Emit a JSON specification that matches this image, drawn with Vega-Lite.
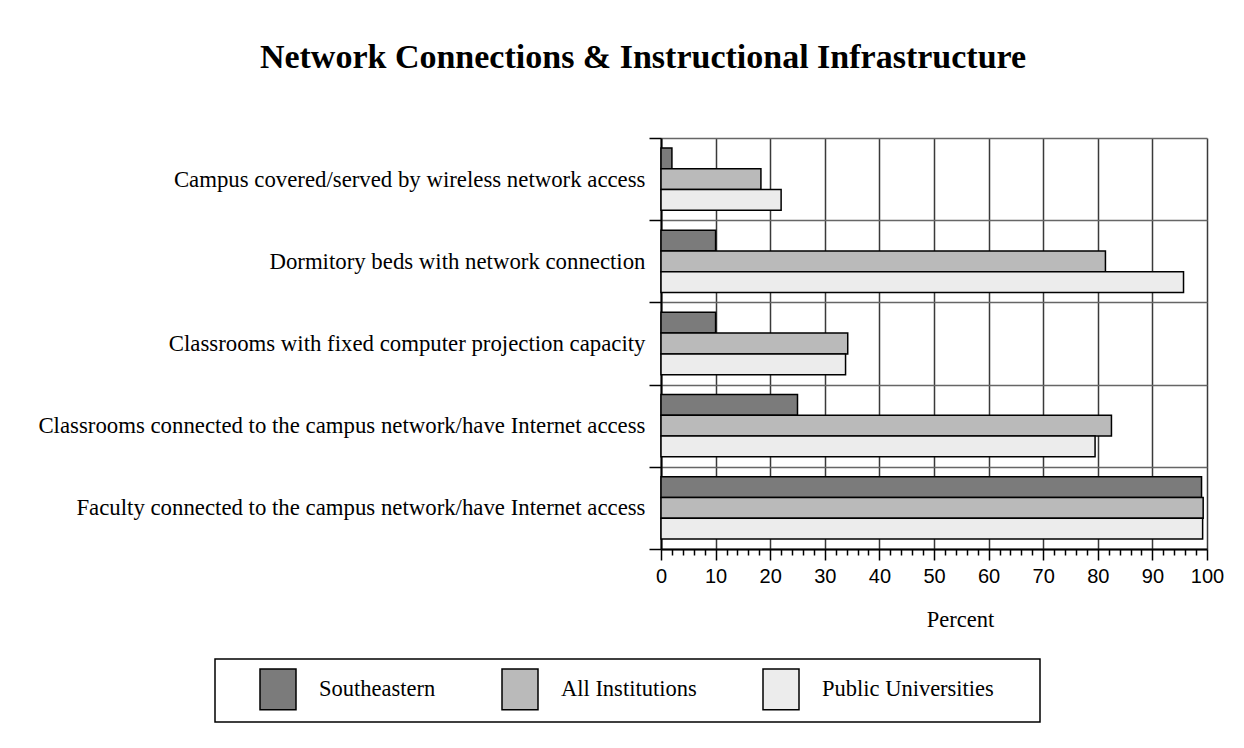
{
  "$schema": "https://vega.github.io/schema/vega-lite/v6.json",
  "width": 546,
  "height": 411,
  "autosize": {"type": "none"},
  "padding": {"left": 661, "top": 138, "right": 37, "bottom": 199},
  "background": "white",
  "title": {
    "text": "Network Connections & Instructional Infrastructure",
    "font": "Liberation Serif",
    "fontSize": 34,
    "fontWeight": "bold",
    "color": "black",
    "anchor": "middle",
    "baseline": "alphabetic",
    "dx": -291,
    "dy": 47,
    "offset": 72
  },
  "data": {
    "values": [
      {"item": "Campus covered/served by wireless network access", "group": "Southeastern", "value": 2.0},
      {"item": "Campus covered/served by wireless network access", "group": "All Institutions", "value": 18.3},
      {"item": "Campus covered/served by wireless network access", "group": "Public Universities", "value": 22.0},
      {"item": "Dormitory beds with network connection", "group": "Southeastern", "value": 10.0},
      {"item": "Dormitory beds with network connection", "group": "All Institutions", "value": 81.4},
      {"item": "Dormitory beds with network connection", "group": "Public Universities", "value": 95.7},
      {"item": "Classrooms with fixed computer projection capacity", "group": "Southeastern", "value": 10.0},
      {"item": "Classrooms with fixed computer projection capacity", "group": "All Institutions", "value": 34.2},
      {"item": "Classrooms with fixed computer projection capacity", "group": "Public Universities", "value": 33.8},
      {"item": "Classrooms connected to the campus network/have Internet access", "group": "Southeastern", "value": 25.0},
      {"item": "Classrooms connected to the campus network/have Internet access", "group": "All Institutions", "value": 82.5},
      {"item": "Classrooms connected to the campus network/have Internet access", "group": "Public Universities", "value": 79.5},
      {"item": "Faculty connected to the campus network/have Internet access", "group": "Southeastern", "value": 99.0},
      {"item": "Faculty connected to the campus network/have Internet access", "group": "All Institutions", "value": 99.3},
      {"item": "Faculty connected to the campus network/have Internet access", "group": "Public Universities", "value": 99.2}
    ]
  },
  "layer": [
    {
      "mark": {"type": "bar", "stroke": "black", "strokeWidth": 1.5},
      "encoding": {
        "y": {
          "field": "item",
          "type": "nominal",
          "sort": [
            "Campus covered/served by wireless network access",
            "Dormitory beds with network connection",
            "Classrooms with fixed computer projection capacity",
            "Classrooms connected to the campus network/have Internet access",
            "Faculty connected to the campus network/have Internet access"
          ],
          "scale": {"paddingInner": 0, "paddingOuter": 0},
          "axis": {
            "title": null,
            "tickBand": "extent",
            "grid": true,
            "gridColor": "#666666",
            "gridWidth": 1.5,
            "domainColor": "black",
            "domainWidth": 2,
            "tickColor": "black",
            "tickWidth": 1.5,
            "tickSize": 12,
            "labelPadding": 4,
            "labelFont": "Liberation Serif",
            "labelFontSize": 22.8,
            "labelColor": "black",
            "labelLimit": 0
          }
        },
        "yOffset": {
          "field": "group",
          "sort": ["Southeastern", "All Institutions", "Public Universities"],
          "scale": {"paddingOuter": 0.48, "paddingInner": 0}
        },
        "x": {
          "field": "value",
          "type": "quantitative",
          "scale": {"domain": [0, 100], "nice": false},
          "axis": {
            "title": "Percent",
            "values": [0, 10, 20, 30, 40, 50, 60, 70, 80, 90, 100],
            "grid": true,
            "gridColor": "#3a3a3a",
            "gridWidth": 1.5,
            "domainColor": "black",
            "domainWidth": 2,
            "tickColor": "black",
            "tickWidth": 1.5,
            "tickSize": 11,
            "labelFont": "Liberation Sans",
            "labelFontSize": 20,
            "labelColor": "black",
            "labelPadding": 6,
            "labelFlush": false,
            "titleFont": "Liberation Serif",
            "titleFontSize": 22.5,
            "titleFontWeight": "normal",
            "titleColor": "black",
            "titleX": 299,
            "titleY": 77,
            "titleBaseline": "alphabetic",
            "titleAlign": "center"
          }
        },
        "color": {
          "field": "group",
          "type": "nominal",
          "sort": ["Southeastern", "All Institutions", "Public Universities"],
          "scale": {
            "domain": ["Southeastern", "All Institutions", "Public Universities"],
            "range": ["#7b7b7b", "#bababa", "#ececec"]
          },
          "legend": {
            "title": " ",
            "titleOrient": "right",
            "titlePadding": 37,
            "orient": "none",
            "legendX": -446,
            "legendY": 521,
            "direction": "horizontal",
            "columns": 3,
            "symbolType": "M-0.9,-1.02H0.9V1.02H-0.9Z",
            "symbolSize": 1600,
            "symbolStrokeColor": "black",
            "symbolStrokeWidth": 1.5,
            "symbolOpacity": 1,
            "symbolOffset": 33,
            "labelFont": "Liberation Serif",
            "labelFontSize": 22.5,
            "labelColor": "black",
            "labelOffset": 20,
            "labelLimit": 0,
            "columnPadding": 30,
            "padding": 9,
            "strokeColor": "black",
            "fillColor": "white"
          }
        }
      }
    },
    {
      "mark": {"type": "rule", "opacity": 0},
      "encoding": {
        "x": {
          "field": "value",
          "type": "quantitative",
          "axis": {
            "orient": "bottom",
            "title": null,
            "values": [2, 4, 6, 8, 12, 14, 16, 18, 22, 24, 26, 28, 32, 34, 36, 38, 42, 44, 46, 48, 52, 54, 56, 58, 62, 64, 66, 68, 72, 74, 76, 78, 82, 84, 86, 88, 92, 94, 96, 98],
            "labels": false,
            "grid": false,
            "domain": false,
            "tickColor": "black",
            "tickWidth": 1.5,
            "tickSize": 6
          }
        }
      }
    }
  ],
  "resolve": {"axis": {"x": "independent"}},
  "config": {"view": {"stroke": null}, "legend": {"strokeWidth": 1.5}}
}
